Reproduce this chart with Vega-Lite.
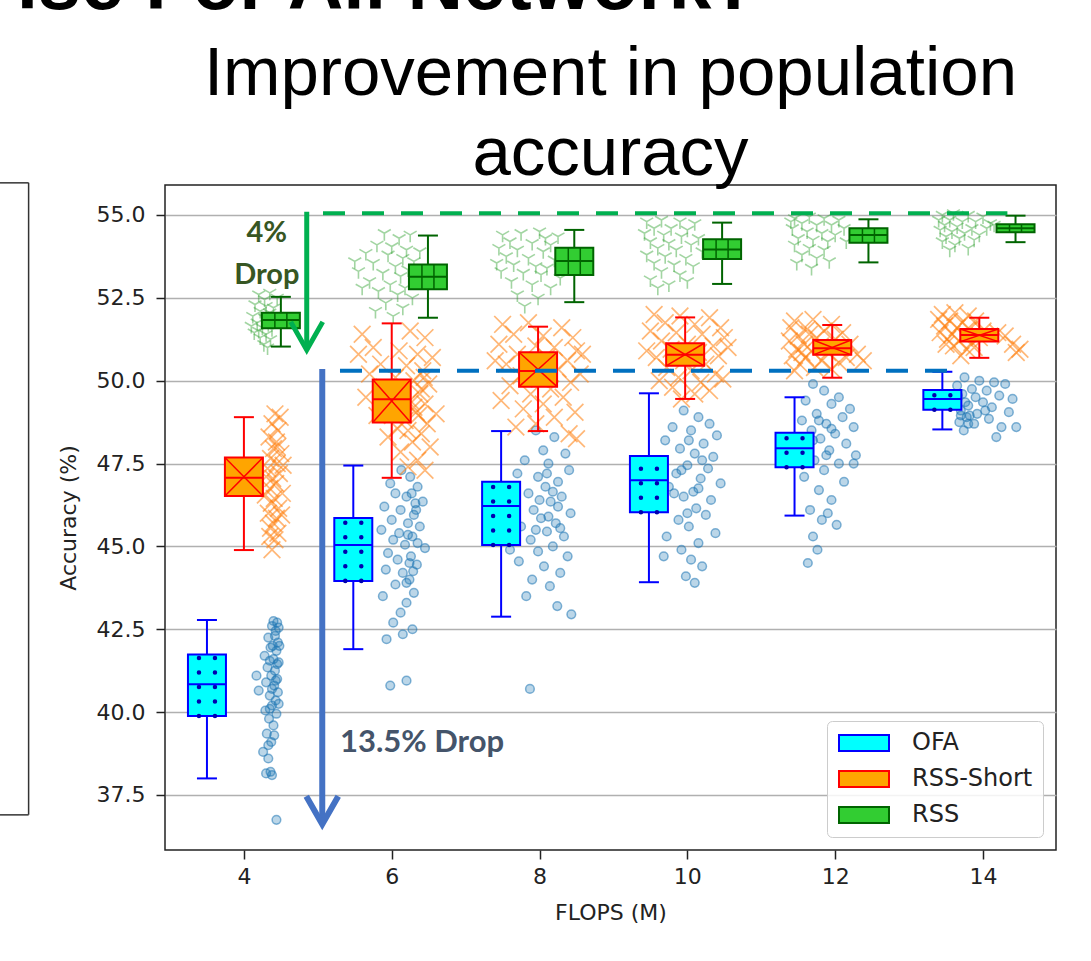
{
"$schema":"https://vega.github.io/schema/vega-lite/v6.json",
"width":891,"height":665,
"autosize":{"type":"none"},
"padding":{"left":165,"top":185,"right":35,"bottom":111},
"background":"white",
"title":{"text":["Improvement in population","accuracy"],"fontSize":69,"font":"Liberation Sans","fontWeight":"normal","color":"black","anchor":"middle","lineHeight":80,"baseline":"top","offset":-242},
"config":{
 "view":{"stroke":"#222","strokeWidth":1.5,"fill":"white"},
 "axis":{"labelFont":"DejaVu Sans","labelFontSize":22,"labelColor":"#222","titleFont":"DejaVu Sans","titleFontSize":22,"titleFontWeight":"normal","titleColor":"#222","domain":false,"tickColor":"#222","tickSize":9,"tickWidth":1.5}
},
"datasets":{
"boxes":[
{"s":"OFA","xc":3.50,"lo":38.0,"q1":39.88,"med":40.84,"q3":41.74,"hi":42.78},
{"s":"OFA","xc":5.48,"lo":41.9,"q1":43.96,"med":45.04,"q3":45.86,"hi":47.44},
{"s":"OFA","xc":7.48,"lo":42.88,"q1":45.04,"med":46.22,"q3":46.95,"hi":48.48},
{"s":"OFA","xc":9.48,"lo":43.92,"q1":46.03,"med":47.0,"q3":47.73,"hi":49.62},
{"s":"OFA","xc":11.45,"lo":45.93,"q1":47.39,"med":47.96,"q3":48.43,"hi":49.5},
{"s":"OFA","xc":13.45,"lo":48.53,"q1":49.12,"med":49.45,"q3":49.72,"hi":50.27},
{"s":"RSS-Short","xc":4.0,"lo":44.89,"q1":46.52,"med":47.07,"q3":47.68,"hi":48.9},
{"s":"RSS-Short","xc":6.0,"lo":47.07,"q1":48.74,"med":49.44,"q3":50.04,"hi":51.73},
{"s":"RSS-Short","xc":7.98,"lo":48.48,"q1":49.82,"med":50.29,"q3":50.86,"hi":51.63},
{"s":"RSS-Short","xc":9.97,"lo":49.45,"q1":50.45,"med":50.78,"q3":51.13,"hi":51.91},
{"s":"RSS-Short","xc":11.96,"lo":50.09,"q1":50.78,"med":50.98,"q3":51.23,"hi":51.68},
{"s":"RSS-Short","xc":13.95,"lo":50.69,"q1":51.18,"med":51.38,"q3":51.56,"hi":51.9},
{"s":"RSS","xc":4.5,"lo":51.03,"q1":51.58,"med":51.83,"q3":52.05,"hi":52.53},
{"s":"RSS","xc":6.49,"lo":51.9,"q1":52.76,"med":53.14,"q3":53.51,"hi":54.38},
{"s":"RSS","xc":8.47,"lo":52.37,"q1":53.19,"med":53.61,"q3":54.01,"hi":54.55},
{"s":"RSS","xc":10.47,"lo":52.92,"q1":53.67,"med":53.96,"q3":54.27,"hi":54.77},
{"s":"RSS","xc":12.45,"lo":53.57,"q1":54.16,"med":54.4,"q3":54.6,"hi":54.87},
{"s":"RSS","xc":14.44,"lo":54.18,"q1":54.48,"med":54.6,"q3":54.72,"hi":54.98}
],
"ofa":[
{"x":4.40,"y":42.75},{"x":4.45,"y":42.7},{"x":4.38,"y":42.6},{"x":4.47,"y":42.55},{"x":4.42,"y":42.3},{"x":4.33,"y":42.25},{"x":4.46,"y":42.1},{"x":4.36,"y":41.95},{"x":4.44,"y":41.85},{"x":4.28,"y":41.7},{"x":4.40,"y":41.6},{"x":4.47,"y":41.5},{"x":4.32,"y":41.35},{"x":4.42,"y":41.25},{"x":4.37,"y":41.1},{"x":4.45,"y":41.0},{"x":4.30,"y":40.9},{"x":4.41,"y":40.8},{"x":4.46,"y":40.6},{"x":4.20,"y":40.65},{"x":4.35,"y":40.5},{"x":4.43,"y":40.35},{"x":4.38,"y":40.2},{"x":4.29,"y":40.05},{"x":4.44,"y":39.95},{"x":4.34,"y":39.8},{"x":4.40,"y":39.6},{"x":4.31,"y":39.35},{"x":4.37,"y":39.1},{"x":4.26,"y":38.8},{"x":4.33,"y":38.6},{"x":4.36,"y":38.2},{"x":4.30,"y":38.15},{"x":4.38,"y":38.1},{"x":4.44,"y":36.75},{"x":4.17,"y":41.1},{"x":4.48,"y":42.0},
{"x":4.43,"y":42.45},{"x":4.39,"y":42.0},{"x":4.45,"y":41.45},{"x":4.35,"y":41.55},{"x":4.43,"y":40.95},{"x":4.38,"y":40.7},{"x":4.47,"y":40.25},{"x":4.35,"y":40.1},{"x":4.41,"y":39.3},{"x":4.33,"y":39.0},
{"x":6.13,"y":47.3},{"x":6.25,"y":47.1},{"x":5.98,"y":46.9},{"x":6.35,"y":46.8},{"x":6.05,"y":46.6},{"x":6.20,"y":46.5},{"x":6.42,"y":46.35},{"x":5.90,"y":46.2},{"x":6.12,"y":46.1},{"x":6.30,"y":45.95},{"x":6.00,"y":45.8},{"x":6.22,"y":45.7},{"x":6.38,"y":45.6},{"x":5.86,"y":45.5},{"x":6.10,"y":45.4},{"x":6.28,"y":45.3},{"x":6.02,"y":45.2},{"x":6.18,"y":45.05},{"x":6.45,"y":44.95},{"x":5.95,"y":44.8},{"x":6.26,"y":44.7},{"x":6.08,"y":44.6},{"x":6.34,"y":44.45},{"x":5.92,"y":44.3},{"x":6.15,"y":44.2},{"x":6.24,"y":44.0},{"x":6.05,"y":43.85},{"x":6.30,"y":43.6},{"x":5.88,"y":43.5},{"x":6.20,"y":43.3},{"x":6.12,"y":43.0},{"x":6.02,"y":42.7},{"x":6.28,"y":42.5},{"x":5.93,"y":42.2},{"x":6.15,"y":42.35},{"x":5.98,"y":40.8},{"x":6.20,"y":40.95},
{"x":6.27,"y":46.6},{"x":6.33,"y":46.1},{"x":6.22,"y":45.35},{"x":6.35,"y":45.1},{"x":6.24,"y":44.5},{"x":6.20,"y":43.9},{"x":6.32,"y":46.3},{"x":6.29,"y":44.25},
{"x":7.95,"y":48.5},{"x":8.20,"y":48.3},{"x":8.05,"y":47.9},{"x":8.35,"y":47.8},{"x":7.80,"y":47.6},{"x":8.12,"y":47.5},{"x":8.40,"y":47.3},{"x":7.70,"y":47.2},{"x":7.98,"y":47.1},{"x":8.25,"y":46.95},{"x":8.08,"y":46.8},{"x":7.85,"y":46.6},{"x":8.30,"y":46.5},{"x":8.15,"y":46.35},{"x":7.65,"y":46.2},{"x":7.92,"y":46.1},{"x":8.42,"y":46.0},{"x":8.02,"y":45.85},{"x":8.22,"y":45.7},{"x":7.75,"y":45.6},{"x":8.10,"y":45.45},{"x":8.33,"y":45.3},{"x":7.88,"y":45.2},{"x":8.18,"y":45.0},{"x":7.98,"y":44.85},{"x":8.38,"y":44.7},{"x":7.72,"y":44.55},{"x":8.06,"y":44.4},{"x":8.28,"y":44.2},{"x":7.90,"y":44.0},{"x":8.14,"y":43.8},{"x":7.82,"y":43.5},{"x":8.24,"y":43.2},{"x":8.43,"y":42.95},{"x":7.60,"y":44.9},{"x":7.87,"y":40.7},
{"x":8.10,"y":47.2},{"x":8.18,"y":46.65},{"x":8.00,"y":46.4},{"x":8.25,"y":46.2},{"x":8.12,"y":45.9},{"x":7.95,"y":45.5},{"x":8.28,"y":45.55},
{"x":9.95,"y":49.1},{"x":10.15,"y":48.9},{"x":10.30,"y":48.7},{"x":9.80,"y":48.6},{"x":10.05,"y":48.5},{"x":10.40,"y":48.35},{"x":9.70,"y":48.2},{"x":10.22,"y":48.1},{"x":9.90,"y":47.95},{"x":10.10,"y":47.8},{"x":10.35,"y":47.7},{"x":9.60,"y":47.6},{"x":10.00,"y":47.45},{"x":10.28,"y":47.35},{"x":9.85,"y":47.2},{"x":10.18,"y":47.05},{"x":10.45,"y":46.9},{"x":9.75,"y":46.8},{"x":10.08,"y":46.65},{"x":9.95,"y":46.5},{"x":10.32,"y":46.4},{"x":9.65,"y":46.3},{"x":10.12,"y":46.15},{"x":10.25,"y":45.95},{"x":9.88,"y":45.8},{"x":10.02,"y":45.6},{"x":10.38,"y":45.4},{"x":9.72,"y":45.3},{"x":10.15,"y":45.1},{"x":9.92,"y":44.9},{"x":10.05,"y":44.6},{"x":9.68,"y":44.7},{"x":10.20,"y":44.4},{"x":9.98,"y":44.1},{"x":10.10,"y":43.9},
{"x":10.02,"y":48.2},{"x":10.20,"y":47.6},{"x":9.92,"y":47.3},{"x":10.15,"y":46.75},{"x":10.00,"y":46.0},{"x":9.82,"y":46.6},
{"x":11.70,"y":49.9},{"x":11.85,"y":49.7},{"x":12.05,"y":49.5},{"x":11.60,"y":49.4},{"x":11.95,"y":49.3},{"x":12.20,"y":49.15},{"x":11.75,"y":49.0},{"x":12.10,"y":48.9},{"x":11.55,"y":48.8},{"x":11.88,"y":48.7},{"x":12.25,"y":48.6},{"x":11.68,"y":48.5},{"x":12.00,"y":48.4},{"x":11.80,"y":48.25},{"x":12.15,"y":48.1},{"x":11.62,"y":48.0},{"x":11.92,"y":47.9},{"x":12.28,"y":47.75},{"x":11.72,"y":47.6},{"x":12.05,"y":47.5},{"x":11.85,"y":47.3},{"x":11.58,"y":47.1},{"x":12.12,"y":46.95},{"x":11.78,"y":46.7},{"x":11.95,"y":46.4},{"x":11.66,"y":46.1},{"x":11.82,"y":45.8},{"x":11.70,"y":45.3},{"x":11.76,"y":44.9},{"x":11.63,"y":44.5},{"x":12.25,"y":47.5},{"x":11.90,"y":46.0},{"x":12.02,"y":45.65},
{"x":11.78,"y":48.8},{"x":11.95,"y":48.55},{"x":11.70,"y":48.2},{"x":11.88,"y":47.75},
{"x":13.75,"y":50.1},{"x":13.95,"y":50.0},{"x":14.15,"y":49.95},{"x":13.65,"y":49.85},{"x":14.30,"y":49.9},{"x":13.85,"y":49.75},{"x":14.05,"y":49.7},{"x":13.72,"y":49.6},{"x":14.22,"y":49.55},{"x":13.90,"y":49.5},{"x":14.40,"y":49.45},{"x":13.62,"y":49.4},{"x":14.00,"y":49.35},{"x":13.80,"y":49.25},{"x":14.12,"y":49.2},{"x":13.70,"y":49.1},{"x":14.35,"y":49.05},{"x":13.92,"y":49.0},{"x":13.78,"y":48.9},{"x":14.08,"y":48.85},{"x":13.68,"y":48.75},{"x":13.88,"y":48.7},{"x":14.25,"y":48.6},{"x":13.74,"y":48.5},{"x":14.45,"y":48.6},{"x":14.18,"y":48.3},{"x":13.82,"y":48.95},{"x":14.03,"y":49.1},
{"x":13.76,"y":49.35},{"x":13.70,"y":48.95},{"x":13.80,"y":48.7},{"x":13.66,"y":49.55}
],
"rssshort":[
{"x":4.42,"y":49.0},{"x":4.38,"y":48.7},{"x":4.46,"y":48.5},{"x":4.34,"y":48.3},{"x":4.44,"y":48.15},{"x":4.40,"y":47.95},{"x":4.50,"y":47.8},{"x":4.36,"y":47.65},{"x":4.45,"y":47.5},{"x":4.32,"y":47.35},{"x":4.48,"y":47.2},{"x":4.39,"y":47.05},{"x":4.43,"y":46.9},{"x":4.35,"y":46.75},{"x":4.52,"y":46.6},{"x":4.41,"y":46.45},{"x":4.37,"y":46.3},{"x":4.47,"y":46.15},{"x":4.33,"y":46.0},{"x":4.44,"y":45.85},{"x":4.40,"y":45.7},{"x":4.36,"y":45.55},{"x":4.46,"y":45.4},{"x":4.42,"y":45.2},{"x":4.38,"y":44.9},{"x":4.49,"y":48.9},{"x":4.30,"y":47.1},{"x":4.53,"y":47.45},{"x":4.29,"y":46.55},{"x":4.51,"y":45.95},{"x":4.45,"y":48.0},{"x":4.35,"y":45.3},
{"x":5.60,"y":51.4},{"x":6.25,"y":51.5},{"x":6.45,"y":51.3},{"x":5.75,"y":51.0},{"x":6.10,"y":50.9},{"x":6.35,"y":50.8},{"x":6.55,"y":50.7},{"x":5.85,"y":50.5},{"x":6.20,"y":50.45},{"x":6.42,"y":50.3},{"x":5.70,"y":50.2},{"x":6.05,"y":50.1},{"x":6.30,"y":50.0},{"x":6.50,"y":49.9},{"x":5.90,"y":49.8},{"x":6.15,"y":49.7},{"x":6.38,"y":49.6},{"x":5.65,"y":49.5},{"x":6.25,"y":49.4},{"x":6.45,"y":49.3},{"x":6.00,"y":49.2},{"x":6.33,"y":49.05},{"x":5.80,"y":48.95},{"x":6.18,"y":48.8},{"x":6.48,"y":48.7},{"x":6.08,"y":48.55},{"x":6.40,"y":48.4},{"x":5.95,"y":48.3},{"x":6.28,"y":48.15},{"x":6.52,"y":48.0},{"x":6.12,"y":47.85},{"x":6.35,"y":47.6},{"x":6.22,"y":47.4},{"x":6.45,"y":47.3},{"x":5.55,"y":50.8},{"x":6.60,"y":49.0},
{"x":6.30,"y":49.2},{"x":6.40,"y":49.75},{"x":6.22,"y":48.5},{"x":6.36,"y":48.95},{"x":6.44,"y":50.1},
{"x":7.50,"y":51.7},{"x":7.85,"y":51.75},{"x":8.30,"y":51.6},{"x":7.65,"y":51.4},{"x":8.05,"y":51.35},{"x":8.45,"y":51.3},{"x":7.45,"y":51.1},{"x":7.95,"y":51.05},{"x":8.20,"y":51.0},{"x":8.50,"y":50.9},{"x":7.70,"y":50.8},{"x":8.10,"y":50.7},{"x":8.38,"y":50.6},{"x":7.55,"y":50.5},{"x":7.90,"y":50.45},{"x":8.25,"y":50.35},{"x":8.55,"y":50.2},{"x":7.75,"y":50.15},{"x":8.00,"y":50.05},{"x":8.42,"y":49.95},{"x":7.60,"y":49.85},{"x":8.15,"y":49.75},{"x":7.88,"y":49.6},{"x":8.32,"y":49.5},{"x":7.48,"y":49.4},{"x":8.05,"y":49.3},{"x":7.78,"y":49.15},{"x":8.48,"y":49.05},{"x":8.20,"y":48.9},{"x":7.95,"y":48.7},{"x":8.40,"y":48.4},{"x":7.68,"y":48.6},{"x":8.50,"y":48.25},{"x":7.40,"y":50.6},{"x":8.58,"y":50.8},
{"x":9.55,"y":52.0},{"x":9.90,"y":51.95},{"x":10.30,"y":51.9},{"x":9.70,"y":51.75},{"x":10.10,"y":51.7},{"x":10.45,"y":51.6},{"x":9.50,"y":51.5},{"x":9.85,"y":51.45},{"x":10.20,"y":51.4},{"x":10.50,"y":51.3},{"x":9.65,"y":51.2},{"x":10.00,"y":51.1},{"x":10.35,"y":51.05},{"x":9.78,"y":50.95},{"x":10.15,"y":50.85},{"x":10.42,"y":50.75},{"x":9.58,"y":50.7},{"x":9.95,"y":50.6},{"x":10.25,"y":50.5},{"x":9.72,"y":50.4},{"x":10.05,"y":50.3},{"x":10.38,"y":50.2},{"x":9.88,"y":50.1},{"x":10.18,"y":49.95},{"x":9.62,"y":50.0},{"x":10.48,"y":50.05},{"x":9.80,"y":49.8},{"x":10.10,"y":49.6},{"x":9.92,"y":49.45},{"x":10.30,"y":49.7},{"x":9.45,"y":50.9},{"x":10.55,"y":51.0},
{"x":11.45,"y":51.8},{"x":11.70,"y":51.85},{"x":11.95,"y":51.7},{"x":11.40,"y":51.6},{"x":11.62,"y":51.55},{"x":11.85,"y":51.5},{"x":12.10,"y":51.45},{"x":11.50,"y":51.35},{"x":11.75,"y":51.3},{"x":12.00,"y":51.25},{"x":11.38,"y":51.2},{"x":11.58,"y":51.1},{"x":11.80,"y":51.05},{"x":12.20,"y":51.1},{"x":11.48,"y":50.95},{"x":11.68,"y":50.9},{"x":11.90,"y":50.85},{"x":12.30,"y":50.8},{"x":11.42,"y":50.75},{"x":11.60,"y":50.7},{"x":11.82,"y":50.6},{"x":12.05,"y":50.55},{"x":11.52,"y":50.5},{"x":11.72,"y":50.4},{"x":11.95,"y":50.35},{"x":12.38,"y":50.6},{"x":11.45,"y":50.3},{"x":11.65,"y":51.4},{"x":11.55,"y":50.85},{"x":12.15,"y":50.7},
{"x":13.45,"y":52.0},{"x":13.62,"y":52.05},{"x":13.80,"y":51.95},{"x":13.40,"y":51.85},{"x":13.55,"y":51.8},{"x":13.72,"y":51.75},{"x":13.90,"y":51.8},{"x":13.48,"y":51.65},{"x":13.65,"y":51.6},{"x":13.82,"y":51.55},{"x":14.00,"y":51.5},{"x":13.42,"y":51.45},{"x":13.58,"y":51.4},{"x":13.75,"y":51.35},{"x":13.95,"y":51.3},{"x":14.30,"y":51.35},{"x":13.52,"y":51.25},{"x":13.68,"y":51.2},{"x":13.85,"y":51.15},{"x":14.40,"y":51.1},{"x":13.60,"y":51.05},{"x":13.78,"y":50.95},{"x":14.45,"y":50.85},{"x":13.70,"y":50.75},{"x":14.50,"y":50.95},{"x":13.88,"y":51.0},{"x":14.20,"y":51.45},{"x":13.50,"y":51.1}
],
"rss":[
{"x":4.20,"y":52.6},{"x":4.35,"y":52.65},{"x":4.28,"y":52.45},{"x":4.45,"y":52.5},{"x":4.15,"y":52.3},{"x":4.30,"y":52.25},{"x":4.40,"y":52.2},{"x":4.22,"y":52.1},{"x":4.35,"y":52.05},{"x":4.12,"y":51.95},{"x":4.28,"y":51.9},{"x":4.42,"y":51.85},{"x":4.18,"y":51.75},{"x":4.33,"y":51.7},{"x":4.25,"y":51.6},{"x":4.38,"y":51.55},{"x":4.14,"y":51.45},{"x":4.30,"y":51.4},{"x":4.22,"y":51.3},{"x":4.36,"y":51.25},{"x":4.27,"y":51.1},{"x":4.10,"y":51.65},{"x":4.45,"y":51.95},{"x":4.20,"y":51.5},{"x":4.32,"y":51.0},
{"x":5.90,"y":54.45},{"x":6.10,"y":54.3},{"x":6.25,"y":54.4},{"x":5.80,"y":54.1},{"x":6.00,"y":54.05},{"x":6.20,"y":53.95},{"x":5.65,"y":53.85},{"x":5.95,"y":53.8},{"x":6.15,"y":53.7},{"x":6.30,"y":53.6},{"x":5.75,"y":53.55},{"x":6.05,"y":53.45},{"x":6.22,"y":53.35},{"x":5.55,"y":53.3},{"x":5.88,"y":53.25},{"x":6.12,"y":53.15},{"x":6.35,"y":53.05},{"x":5.70,"y":53.0},{"x":5.98,"y":52.9},{"x":6.18,"y":52.8},{"x":5.82,"y":52.7},{"x":6.08,"y":52.6},{"x":6.28,"y":52.5},{"x":5.92,"y":52.35},{"x":6.15,"y":52.2},{"x":5.78,"y":52.1},{"x":6.02,"y":51.95},{"x":5.50,"y":53.6},{"x":6.38,"y":53.9},{"x":5.60,"y":52.8},
{"x":7.50,"y":54.4},{"x":7.75,"y":54.45},{"x":8.00,"y":54.5},{"x":8.25,"y":54.35},{"x":7.60,"y":54.2},{"x":7.90,"y":54.15},{"x":8.15,"y":54.1},{"x":7.45,"y":54.0},{"x":7.70,"y":53.95},{"x":8.05,"y":53.9},{"x":8.30,"y":53.85},{"x":7.55,"y":53.75},{"x":7.85,"y":53.7},{"x":8.20,"y":53.65},{"x":7.65,"y":53.5},{"x":7.95,"y":53.45},{"x":8.10,"y":53.4},{"x":7.48,"y":53.3},{"x":7.78,"y":53.25},{"x":8.02,"y":53.2},{"x":8.28,"y":53.1},{"x":7.62,"y":53.0},{"x":7.90,"y":52.9},{"x":8.15,"y":52.8},{"x":7.70,"y":52.6},{"x":7.98,"y":52.5},{"x":7.80,"y":52.25},{"x":8.35,"y":53.6},{"x":7.42,"y":53.55},{"x":8.08,"y":54.3},
{"x":9.45,"y":54.8},{"x":9.65,"y":54.85},{"x":9.90,"y":54.8},{"x":10.10,"y":54.75},{"x":9.55,"y":54.6},{"x":9.78,"y":54.6},{"x":10.00,"y":54.55},{"x":9.42,"y":54.45},{"x":9.68,"y":54.4},{"x":9.92,"y":54.35},{"x":10.15,"y":54.3},{"x":9.50,"y":54.2},{"x":9.75,"y":54.15},{"x":10.05,"y":54.1},{"x":9.60,"y":54.0},{"x":9.85,"y":53.95},{"x":10.20,"y":53.9},{"x":9.45,"y":53.8},{"x":9.70,"y":53.75},{"x":9.98,"y":53.7},{"x":9.55,"y":53.55},{"x":9.82,"y":53.5},{"x":10.08,"y":53.45},{"x":9.65,"y":53.3},{"x":9.90,"y":53.2},{"x":9.50,"y":53.05},{"x":9.75,"y":52.9},{"x":10.00,"y":53.0},{"x":9.60,"y":52.8},
{"x":11.45,"y":54.9},{"x":11.65,"y":54.95},{"x":11.85,"y":54.9},{"x":12.05,"y":54.85},{"x":11.55,"y":54.75},{"x":11.75,"y":54.7},{"x":11.95,"y":54.7},{"x":12.12,"y":54.6},{"x":11.42,"y":54.6},{"x":11.62,"y":54.5},{"x":11.82,"y":54.45},{"x":12.00,"y":54.4},{"x":11.50,"y":54.3},{"x":11.70,"y":54.25},{"x":11.90,"y":54.2},{"x":11.45,"y":54.1},{"x":11.65,"y":54.0},{"x":11.85,"y":53.95},{"x":11.55,"y":53.8},{"x":11.75,"y":53.7},{"x":11.48,"y":53.55},{"x":11.68,"y":53.4},{"x":11.92,"y":53.6},{"x":12.15,"y":54.2},{"x":11.40,"y":54.8},
{"x":13.45,"y":55.0},{"x":13.60,"y":55.05},{"x":13.80,"y":55.0},{"x":14.00,"y":54.95},{"x":13.40,"y":54.85},{"x":13.55,"y":54.85},{"x":13.72,"y":54.8},{"x":13.90,"y":54.8},{"x":14.10,"y":54.75},{"x":13.48,"y":54.7},{"x":13.65,"y":54.65},{"x":13.85,"y":54.6},{"x":14.05,"y":54.6},{"x":13.42,"y":54.55},{"x":13.58,"y":54.5},{"x":13.75,"y":54.45},{"x":13.95,"y":54.4},{"x":13.50,"y":54.35},{"x":13.68,"y":54.3},{"x":13.88,"y":54.25},{"x":13.45,"y":54.2},{"x":13.62,"y":54.1},{"x":13.55,"y":53.95},{"x":13.80,"y":54.0},{"x":14.15,"y":54.7}
]
},
"layer":[
{"data":{"values":[{"x":1.087,"x2":1.087,"y":36.9,"y2":55.97},{"x":0.7,"x2":1.087,"y":55.97,"y2":55.97},{"x":0.7,"x2":1.087,"y":36.9,"y2":36.9}]},
 "mark":{"type":"rule","stroke":"#333","strokeWidth":1.5},
 "encoding":{"x":{"field":"x","type":"quantitative"},"x2":{"field":"x2"},"y":{"field":"y","type":"quantitative"},"y2":{"field":"y2"}}},
{"data":{"name":"ofa"},
 "mark":{"type":"point","shape":"circle","filled":true,"size":75,"fill":"#1f77b4","fillOpacity":0.3,"stroke":"#1f77b4","strokeOpacity":0.55,"strokeWidth":1.5},
 "encoding":{
  "x":{"field":"x","type":"quantitative","scale":{"domain":[3.0,14.92],"nice":false,"zero":false},"axis":{"values":[4,6,8,10,12,14],"format":"d","grid":false,"title":"FLOPS (M)","labelPadding":7,"titlePadding":15}},
  "y":{"field":"y","type":"quantitative","scale":{"domain":[35.84,55.905],"nice":false,"zero":false},"axis":{"values":[37.5,40,42.5,45,47.5,50,52.5,55],"format":".1f","grid":true,"gridColor":"#b0b0b0","gridWidth":1.5,"title":"Accuracy (%)","labelPadding":11,"titlePadding":16}}}},
{"data":{"name":"rssshort"},
 "mark":{"type":"point","shape":"M-1,-1L1,1M-1,1L1,-1","filled":false,"size":280,"stroke":"#ff7f0e","strokeOpacity":0.8,"strokeWidth":1.7},
 "encoding":{"x":{"field":"x","type":"quantitative"},"y":{"field":"y","type":"quantitative"}}},
{"data":{"name":"rss"},
 "mark":{"type":"point","shape":"M0,0L0,1M0,0L-0.87,-0.5M0,0L0.87,-0.5","filled":false,"size":220,"stroke":"#2ca02c","strokeOpacity":0.62,"strokeWidth":1.6},
 "encoding":{"x":{"field":"x","type":"quantitative"},"y":{"field":"y","type":"quantitative"}}},
{"data":{"name":"boxes"},
 "mark":{"type":"rule","strokeWidth":2},
 "encoding":{"x":{"field":"xc","type":"quantitative"},"y":{"field":"lo","type":"quantitative"},"y2":{"field":"hi"},"stroke":{"field":"s","type":"nominal"}}},
{"data":{"name":"boxes"},
 "mark":{"type":"bar","orient":"vertical","size":38,"strokeWidth":2},
 "encoding":{"x":{"field":"xc","type":"quantitative"},"y":{"field":"q1","type":"quantitative"},"y2":{"field":"q3"},
  "fill":{"field":"s","type":"nominal","scale":{"domain":["OFA","RSS-Short","RSS"],"range":["#00FFFF","#FFA500","#32CD32"]},
   "legend":{"title":null,"orient":"bottom-right","offset":13,"symbolType":"M-2.5,-0.8H2.5V0.8H-2.5Z","symbolSize":400,"symbolStrokeWidth":2,"symbolOpacity":1,"symbolOffset":15,"labelFont":"DejaVu Sans","labelFontSize":24,"labelColor":"#222","labelOffset":36,"rowPadding":12,"padding":10,"fillColor":"rgba(255,255,255,0.85)","strokeColor":"#cccccc","cornerRadius":5}},
  "stroke":{"field":"s","type":"nominal","scale":{"domain":["OFA","RSS-Short","RSS"],"range":["#0000FF","#FF0000","#006400"]},
   "legend":{"title":null,"orient":"bottom-right","offset":13,"symbolType":"M-2.5,-0.8H2.5V0.8H-2.5Z","symbolSize":400,"symbolStrokeWidth":2,"symbolOpacity":1,"symbolOffset":15,"labelFont":"DejaVu Sans","labelFontSize":24,"labelColor":"#222","labelOffset":36,"rowPadding":12,"padding":10,"fillColor":"rgba(255,255,255,0.85)","strokeColor":"#cccccc","cornerRadius":5}}}},
{"data":{"name":"boxes"},"transform":[{"filter":"datum.s === 'OFA'"}],
 "mark":{"type":"rule","xOffset":-8,"strokeWidth":4.5,"strokeCap":"round","strokeDash":[0.01,14.5],"stroke":"#0000B0"},
 "encoding":{"x":{"field":"xc","type":"quantitative"},"y":{"field":"q1","type":"quantitative"},"y2":{"field":"q3"}}},
{"data":{"name":"boxes"},"transform":[{"filter":"datum.s === 'OFA'"}],
 "mark":{"type":"rule","xOffset":8,"strokeWidth":4.5,"strokeCap":"round","strokeDash":[0.01,14.5],"stroke":"#0000B0"},
 "encoding":{"x":{"field":"xc","type":"quantitative"},"y":{"field":"q1","type":"quantitative"},"y2":{"field":"q3"}}},
{"data":{"name":"boxes"},"transform":[{"filter":"datum.s === 'RSS'"}],
 "mark":{"type":"rule","xOffset":-6,"strokeWidth":1.5,"stroke":"#006400"},
 "encoding":{"x":{"field":"xc","type":"quantitative"},"y":{"field":"q1","type":"quantitative"},"y2":{"field":"q3"}}},
{"data":{"name":"boxes"},"transform":[{"filter":"datum.s === 'RSS'"}],
 "mark":{"type":"rule","xOffset":6,"strokeWidth":1.5,"stroke":"#006400"},
 "encoding":{"x":{"field":"xc","type":"quantitative"},"y":{"field":"q1","type":"quantitative"},"y2":{"field":"q3"}}},
{"data":{"name":"boxes"},"transform":[{"filter":"datum.s === 'RSS-Short'"}],
 "mark":{"type":"rule","xOffset":-19,"x2Offset":19,"strokeWidth":1.5,"stroke":"#FF0000"},
 "encoding":{"x":{"field":"xc","type":"quantitative"},"x2":{"field":"xc"},"y":{"field":"q1","type":"quantitative"},"y2":{"field":"q3"}}},
{"data":{"name":"boxes"},"transform":[{"filter":"datum.s === 'RSS-Short'"}],
 "mark":{"type":"rule","xOffset":-19,"x2Offset":19,"strokeWidth":1.5,"stroke":"#FF0000"},
 "encoding":{"x":{"field":"xc","type":"quantitative"},"x2":{"field":"xc"},"y":{"field":"q3","type":"quantitative"},"y2":{"field":"q1"}}},
{"data":{"name":"boxes"},
 "mark":{"type":"rule","xOffset":-19,"x2Offset":19,"strokeWidth":2},
 "encoding":{"x":{"field":"xc","type":"quantitative"},"x2":{"field":"xc"},"y":{"field":"med","type":"quantitative"},"stroke":{"field":"s","type":"nominal"}}},
{"data":{"name":"boxes"},
 "mark":{"type":"rule","xOffset":-10,"x2Offset":10,"strokeWidth":2},
 "encoding":{"x":{"field":"xc","type":"quantitative"},"x2":{"field":"xc"},"y":{"field":"hi","type":"quantitative"},"stroke":{"field":"s","type":"nominal"}}},
{"data":{"name":"boxes"},
 "mark":{"type":"rule","xOffset":-10,"x2Offset":10,"strokeWidth":2},
 "encoding":{"x":{"field":"xc","type":"quantitative"},"x2":{"field":"xc"},"y":{"field":"lo","type":"quantitative"},"stroke":{"field":"s","type":"nominal"}}},
{"data":{"values":[{"x":5.07,"x2":14.33,"y":55.05}]},
 "mark":{"type":"rule","stroke":"#00B050","strokeWidth":4,"strokeDash":[22,17]},
 "encoding":{"x":{"field":"x","type":"quantitative"},"x2":{"field":"x2"},"y":{"field":"y","type":"quantitative"}}},
{"data":{"values":[{"x":5.3,"x2":13.55,"y":50.3}]},
 "mark":{"type":"rule","stroke":"#0070C0","strokeWidth":4,"strokeDash":[22,17]},
 "encoding":{"x":{"field":"x","type":"quantitative"},"x2":{"field":"x2"},"y":{"field":"y","type":"quantitative"}}},
{"data":{"values":[{"x":4.85,"y":55.1,"y2":50.98}]},
 "mark":{"type":"rule","stroke":"#00B050","strokeWidth":5},
 "encoding":{"x":{"field":"x","type":"quantitative"},"y":{"field":"y","type":"quantitative"},"y2":{"field":"y2"}}},
{"data":{"values":[{"x":4.85,"y":50.93}]},
 "mark":{"type":"point","shape":"M-1,-1.75L0,0L1,-1.75","filled":false,"size":1024,"stroke":"#00B050","strokeWidth":5,"opacity":1},
 "encoding":{"x":{"field":"x","type":"quantitative"},"y":{"field":"y","type":"quantitative"}}},
{"data":{"values":[{"x":5.06,"y":50.35,"y2":36.7}]},
 "mark":{"type":"rule","stroke":"#4472C4","strokeWidth":6},
 "encoding":{"x":{"field":"x","type":"quantitative"},"y":{"field":"y","type":"quantitative"},"y2":{"field":"y2"}}},
{"data":{"values":[{"x":5.06,"y":36.62}]},
 "mark":{"type":"point","shape":"M-1,-1.75L0,0L1,-1.75","filled":false,"size":1024,"stroke":"#4472C4","strokeWidth":6,"opacity":1},
 "encoding":{"x":{"field":"x","type":"quantitative"},"y":{"field":"y","type":"quantitative"}}},
{"data":{"values":[{"x":4.31,"y":54.2,"t":"4%"},{"x":4.31,"y":52.92,"t":"Drop"}]},
 "mark":{"type":"text","font":"Lato","fontWeight":"bold","fontSize":29,"color":"#375623","align":"center","baseline":"alphabetic"},
 "encoding":{"x":{"field":"x","type":"quantitative"},"y":{"field":"y","type":"quantitative"},"text":{"field":"t"}}},
{"data":{"values":[{"x":5.3,"y":38.8,"t":"13.5% Drop"}]},
 "mark":{"type":"text","font":"Lato","fontWeight":"bold","fontSize":31,"color":"#44546A","align":"left","baseline":"alphabetic"},
 "encoding":{"x":{"field":"x","type":"quantitative"},"y":{"field":"y","type":"quantitative"},"text":{"field":"t"}}},
{"data":{"values":[{"x":10.96,"y":61.22,"t":"ise For All Network?"}]},
 "mark":{"type":"text","font":"Liberation Sans","fontWeight":"bold","fontSize":77,"color":"black","align":"right","baseline":"alphabetic"},
 "encoding":{"x":{"field":"x","type":"quantitative"},"y":{"field":"y","type":"quantitative"},"text":{"field":"t"}}}
]
}
